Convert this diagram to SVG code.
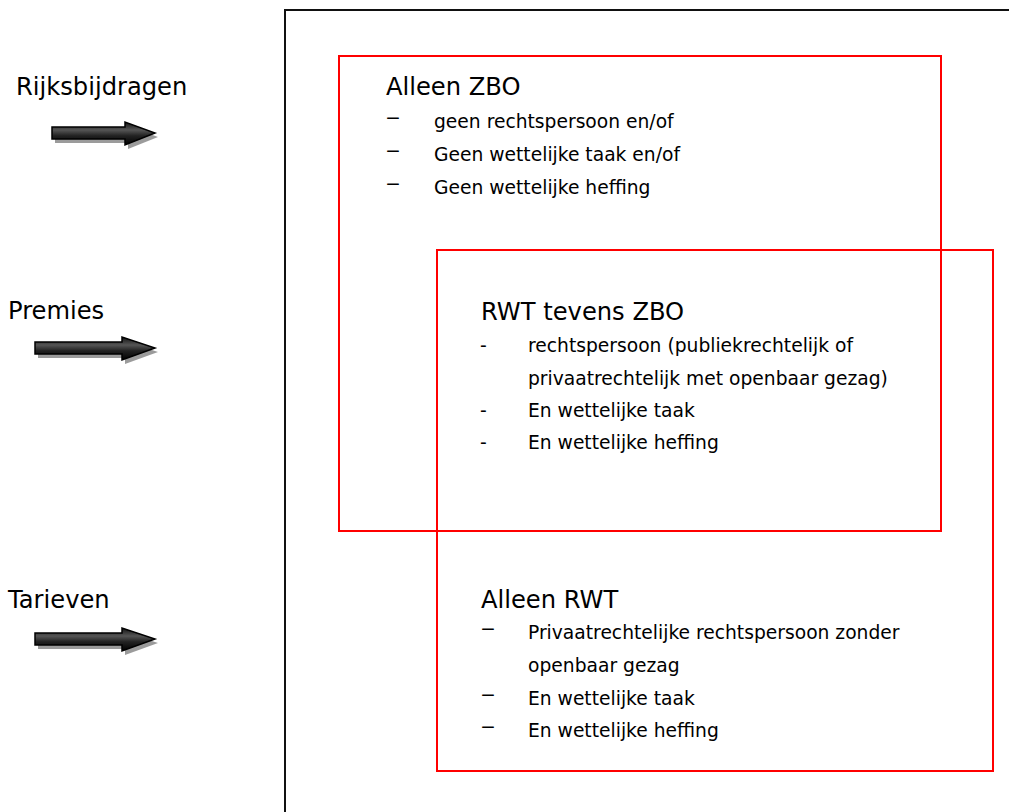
<svg xmlns="http://www.w3.org/2000/svg" width="1009" height="812" viewBox="0 0 1009 812">
  <defs>
    <linearGradient id="shaftFill" x1="0" y1="0" x2="0" y2="1">
      <stop offset="0" stop-color="#111"/>
      <stop offset="0.35" stop-color="#555"/>
      <stop offset="0.6" stop-color="#222"/>
      <stop offset="1" stop-color="#000"/>
    </linearGradient>
  </defs>
  <style>
    .lbl { font-family: "DejaVu Sans", Verdana, sans-serif; font-size: 24.2px; fill: #000; }
    .item { font-family: "DejaVu Sans", Verdana, sans-serif; font-size: 18.7px; fill: #000; }
    .dash { font-family: "DejaVu Sans", Verdana, sans-serif; font-size: 18.7px; fill: #000; }
    .frame { fill: none; stroke: #111; stroke-width: 2; }
    .zone { fill: none; stroke: #f00; stroke-width: 2; }
    .shadow { fill: #8a8a8a; opacity: 0.85; }
    .arrow { fill: url(#shaftFill); stroke: #000; stroke-width: 1.5; stroke-linejoin: miter; }
  </style>

  <!-- outer frame (open to the right and bottom) -->
  <path class="frame" d="M1012,10 H285 V815"/>

  <!-- incoming flows -->
  <g id="rijksbijdragen">
    <text class="lbl" x="16" y="95">Rijksbijdragen</text>
    <path class="shadow" d="M55,131 H128 V126 L158,137 L128,149 V143 H55 Z"/>
    <path class="arrow" d="M52,127 H125 V122 L155,133 L125,145 V139 H52 Z"/>
  </g>
  <g id="premies">
    <text class="lbl" x="8" y="319">Premies</text>
    <path class="shadow" d="M38,346 H125 V341 L158,352 L125,364 V358 H38 Z"/>
    <path class="arrow" d="M35,342 H122 V337 L155,348 L122,360 V354 H35 Z"/>
  </g>
  <g id="tarieven">
    <text class="lbl" x="8" y="608">Tarieven</text>
    <path class="shadow" d="M38,637 H125 V632 L158,643 L125,655 V649 H38 Z"/>
    <path class="arrow" d="M35,633 H122 V628 L155,639 L122,651 V645 H35 Z"/>
  </g>

  <!-- overlapping categories -->
  <g id="connectors">
    <rect class="zone" x="339" y="56" width="602" height="475"/>
    <rect class="zone" x="437" y="250" width="556" height="521"/>
  </g>

  <g id="alleen-zbo">
    <text class="lbl" x="386" y="95">Alleen ZBO</text>
    <text class="dash" x="385" y="124" textLength="16" lengthAdjust="spacingAndGlyphs">-</text>
    <text class="item" x="434" y="128">geen rechtspersoon en/of</text>
    <text class="dash" x="385" y="157" textLength="16" lengthAdjust="spacingAndGlyphs">-</text>
    <text class="item" x="434" y="161">Geen wettelijke taak en/of</text>
    <text class="dash" x="385" y="190" textLength="16" lengthAdjust="spacingAndGlyphs">-</text>
    <text class="item" x="434" y="194">Geen wettelijke heffing</text>
  </g>

  <g id="rwt-tevens-zbo">
    <text class="lbl" x="481" y="320">RWT tevens ZBO</text>
    <text class="dash" x="480" y="352">-</text>
    <text class="item" x="528" y="352">rechtspersoon (publiekrechtelijk of</text>
    <text class="item" x="528" y="385">privaatrechtelijk met openbaar gezag)</text>
    <text class="dash" x="480" y="417">-</text>
    <text class="item" x="528" y="417">En wettelijke taak</text>
    <text class="dash" x="480" y="449">-</text>
    <text class="item" x="528" y="449">En wettelijke heffing</text>
  </g>

  <g id="alleen-rwt">
    <text class="lbl" x="481" y="608">Alleen RWT</text>
    <text class="dash" x="480" y="635" textLength="16" lengthAdjust="spacingAndGlyphs">-</text>
    <text class="item" x="528" y="639">Privaatrechtelijke rechtspersoon zonder</text>
    <text class="item" x="528" y="672">openbaar gezag</text>
    <text class="dash" x="480" y="701" textLength="16" lengthAdjust="spacingAndGlyphs">-</text>
    <text class="item" x="528" y="705">En wettelijke taak</text>
    <text class="dash" x="480" y="733" textLength="16" lengthAdjust="spacingAndGlyphs">-</text>
    <text class="item" x="528" y="737">En wettelijke heffing</text>
  </g>
</svg>
